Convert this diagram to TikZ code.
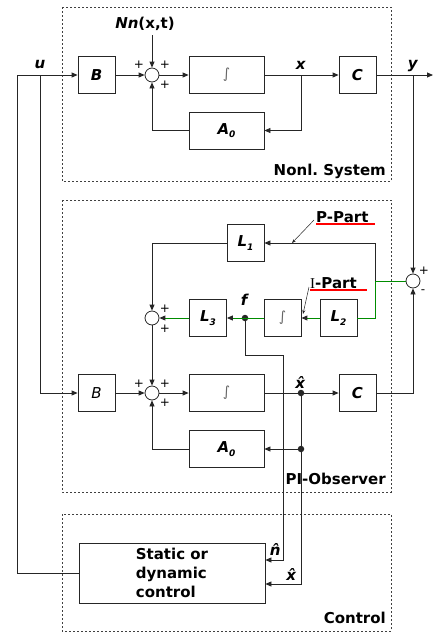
\documentclass[tikz,border=0pt]{standalone}
\usepackage{fontspec}
\setmainfont{DejaVu Sans}
\newfontfamily\serifI{Liberation Serif}
\usetikzlibrary{arrows.meta}
\frenchspacing
\newcommand{\bi}[1]{\textbf{\textit{#1}}}
\newcommand{\bisub}[2]{\textbf{\textit{#1\raisebox{-0.4ex}{\fontsize{9}{9}\selectfont #2}}}}
\newcommand{\integ}{{\color{black!60}\fontsize{14}{14}\selectfont ∫}}

\begin{document}
\begin{tikzpicture}[x=1pt, y=-1pt, font=\fontsize{15}{18}\selectfont,
	block/.style={draw=black!85, line width=0.8pt, minimum width=37pt, minimum height=37pt, inner sep=0pt},
	wide/.style={block, minimum width=75pt},
	sum/.style={circle, draw=black!85, line width=0.8pt, minimum size=14pt, inner sep=0pt},
	dot/.style={circle, fill=black!85, minimum size=6.5pt, inner sep=0pt},
	line/.style={line width=0.8pt, draw=black!85},
	arr/.style={line, -{Triangle[length=6pt,width=5pt]}},
	gline/.style={line width=0.9pt, draw=green!55!black},
	garr/.style={gline, -{Triangle[length=6pt,width=5pt,color=black!85]}},
	note/.style={line width=0.5pt, draw=black!85, -{Stealth[length=4pt,width=3pt]}},
	frame/.style={draw=black!75, line width=0.9pt, dash pattern=on 2pt off 2pt},
	sign/.style={font=\fontsize{12}{12}\selectfont, inner sep=0pt},
	title/.style={font=\fontsize{15}{18}\selectfont\bfseries, anchor=base east, inner sep=0pt},
	ul/.style={draw=red, line width=1.6pt}]
	\useasboundingbox (0,0) rectangle (433,632);
	\draw[frame] (62,7) rectangle (391,181);
	\draw[frame] (62,200) rectangle (391,492);
	\draw[frame] (62,514) rectangle (391,631);
	\node[title] (tsys) at (386,175) {Nonl. System};
	\node[title] (tobs) at (386,484) {PI-Observer};
	\node[title] (tctl) at (386,623) {Control};

	\node[block] (B1) at (96.5,75) {\bi{B}};
	\node[sum] (S1) at (152,75) {};
	\node[wide] (I1) at (226.5,75) {\integ};
	\node[block] (C1) at (357.5,75) {\bi{C}};
	\node[wide] (A1) at (226.5,130.5) {\bisub{A}{0}};

	\node[block] (L1) at (245.5,243) {\bisub{L}{1}};
	\node[sum] (S2) at (152,318) {};
	\node[block] (L3) at (208,318) {\bisub{L}{3}};
	\node[dot] (F) at (245,318) {};
	\node[block] (I2) at (282.5,318) {\integ};
	\node[block] (L2) at (338.5,318) {\bisub{L}{2}};
	\node[sum] (S4) at (413,281) {};
	\node[block] (B2) at (96.5,393) {\textit{B}};
	\node[sum] (S3) at (152,393) {};
	\node[wide] (I3) at (226.5,393) {\integ};
	\node[dot] (X1) at (301,393) {};
	\node[block] (C2) at (357.5,393) {\bi{C}};
	\node[dot] (X2) at (301,449) {};
	\node[wide] (A2) at (226.5,449) {\bisub{A}{0}};

	\node[draw=black!85, line width=0.8pt, minimum width=186pt, minimum height=60pt, inner sep=0pt,
		align=left, font=\fontsize{15}{19}\selectfont\bfseries] (K) at (172,573) {Static or\\dynamic\\control};

	\coordinate (uo) at (17,75);
	\coordinate (ub) at (40,75);
	\coordinate (nn) at (152,35);
	\coordinate (xt) at (301,75);
	\coordinate (yt) at (413,75);
	\coordinate (yo) at (433,75);
	\coordinate (ek) at (375,281);
	\coordinate (fk) at (283,355);

	\draw[line] (K.west) -| (uo) -- (ub);
	\draw[arr] (ub) -- (B1.west);
	\draw[arr] (ub) |- (B2.west);
	\draw[arr] (B1) -- (S1);
	\draw[arr] (nn) -- (S1.north);
	\draw[arr] (S1) -- (I1);
	\draw[arr] (I1) -- (C1);
	\draw[arr] (xt) |- (A1.east);
	\draw[arr] (A1.west) -| (S1.south);
	\draw[arr] (C1) -- (yo);
	\draw[arr] (yt) -- (S4.north);

	\draw[gline] (S4.west) -- (ek) |- (L2.east);
	\draw[arr] (ek) |- (L1.east);
	\draw[garr] (L2) -- (I2);
	\draw[garr] (I2) -- (L3);
	\draw[garr] (L3) -- (S2);
	\draw[arr] (L1.west) -| (S2.north);
	\draw[arr] (S2) -- (S3);
	\draw[arr] (F) |- (fk) |- ([yshift=13pt]K.east);

	\draw[arr] (B2) -- (S3);
	\draw[arr] (S3) -- (I3);
	\draw[arr] (I3) -- (C2);
	\draw[arr] (C2.east) -| (S4.south);
	\draw[line] (X1) -- (X2);
	\draw[arr] (X2) -- (A2.east);
	\draw[arr] (X2) |- ([yshift=-11pt]K.east);
	\draw[arr] (A2.west) -| (S3.south);

	\node (ulab) at (40,65) {\bi{u}};
	\node (nlab) at (145,24) {\bi{Nn}\textbf{(x,t)}};
	\node (xlab) at (301,65) {\bi{x}};
	\node (ylab) at (413,66) {\bi{y}};
	\node (flab) at (245,300) {\bi{f}};
	\node (xhlab) at (301,382) {\bi{\^x}};
	\node (nhlab) at (276,549) {\bi{\^n}};
	\node (xhlab2) at (292,574) {\bi{\^x}};

	\node[sign] (p1) at (139,65) {+};
	\node[sign] (p2) at (165,65) {+};
	\node[sign] (p3) at (165,85) {+};
	\node[sign] (p4) at (165,309) {+};
	\node[sign] (p5) at (165,329) {+};
	\node[sign] (p6) at (139,384) {+};
	\node[sign] (p7) at (165,384) {+};
	\node[sign] (p8) at (165,403) {+};
	\node[sign] (p9) at (424,271) {+};
	\node[sign] (m1) at (423,292) {-};

	\node[font=\fontsize{15}{18}\selectfont\bfseries, anchor=base west, inner sep=0pt] (pp) at (316,222) {P-Part};
	\draw[ul] (316,224) -- (375,224);
	\coordinate (pa) at (292,243);
	\draw[note] (314,220) -- (pa);
	\node[font=\fontsize{15}{18}\selectfont\bfseries, anchor=base west, inner sep=0pt] (ip) at (310,288) {{\mdseries\serifI I}-Part};
	\draw[ul] (310,290) -- (367,290);
	\coordinate (ia) at (303,314);
	\draw[note] (309,287) -- (ia);
\end{tikzpicture}
\end{document}
